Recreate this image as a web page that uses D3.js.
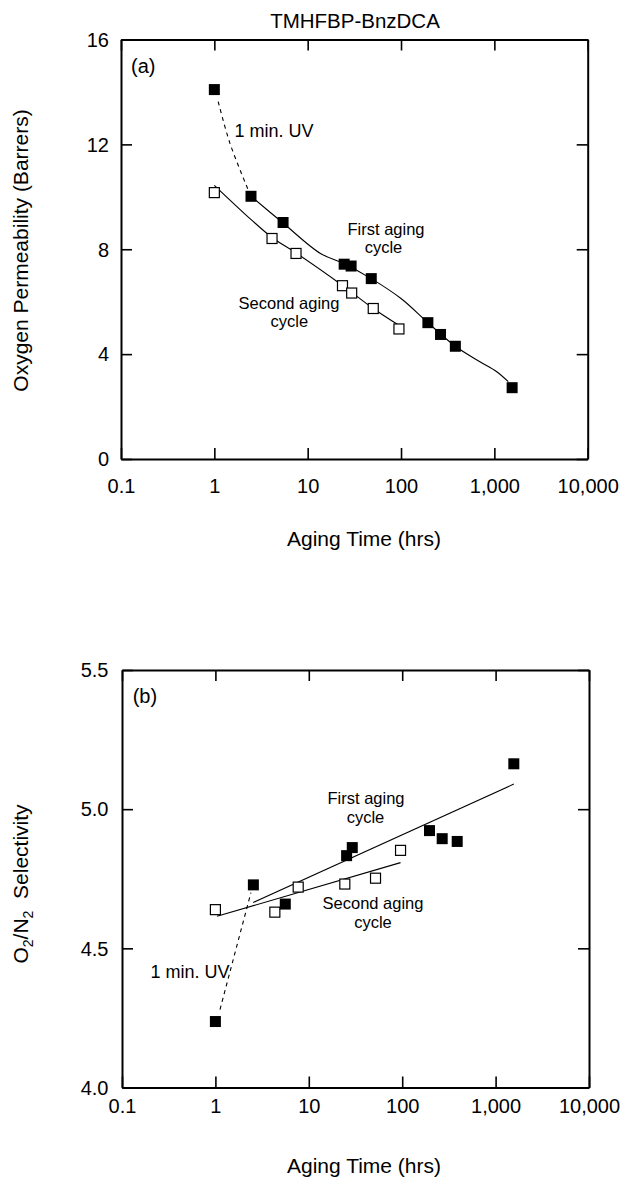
<!DOCTYPE html>
<html>
<head>
<meta charset="utf-8">
<script src="https://cdn.jsdelivr.net/npm/d3@7"></script>
<style>
  html, body { margin: 0; padding: 0; background: #fff; }
  svg { display: block; font-family: "Liberation Sans", Arial, Helvetica, sans-serif; }
</style>
</head>
<body>
<svg id="chart" width="628" height="1178"></svg>
<script>
// ---------------- DATA ----------------
const xTicks = [0.1, 1, 10, 100, 1000, 10000];
const xTickLabels = ["0.1", "1", "10", "100", "1,000", "10,000"];

const yTicksA = [0, 4, 8, 12, 16];
const yTickLabelsA = ["0", "4", "8", "12", "16"];
const yTicksB = [4.0, 4.5, 5.0, 5.5];
const yTickLabelsB = ["4.0", "4.5", "5.0", "5.5"];

// Panel (a): oxygen permeability (Barrers)
const timeFirstA = [1, 2.47, 5.45, 24.6, 29.2, 48, 194, 265, 382, 1550];
const permFirstA = [14.09, 10.02, 9.02, 7.43, 7.36, 6.88, 5.20, 4.75, 4.30, 2.72];
const timeSecondA = [1, 4.15, 7.5, 23.6, 29.6, 50.4, 95];
const permSecondA = [10.16, 8.41, 7.84, 6.61, 6.33, 5.74, 4.96];

// fitted guide curves, panel (a)
const fitFirstXA = [2.47, 5.45, 13.7, 24.6, 48, 100, 194, 382, 700, 1060, 1410];
const fitFirstYA = [10.02, 9.0, 7.84, 7.45, 6.88, 6.12, 5.2, 4.3, 3.71, 3.33, 2.95];
const fitSecondXA = [1, 2.48, 4.15, 7.5, 23.6, 50.4, 95];
const fitSecondYA = [10.44, 9.13, 8.45, 7.86, 6.62, 5.74, 5.1];
const uvXA = [1.10, 1.47, 2.31];
const uvYA = [13.63, 12.04, 10.26];

// Panel (b): O2/N2 selectivity
const timeFirstB = [1, 2.55, 5.6, 25.4, 29.2, 196, 268, 388, 1567];
const selFirstB = [4.237, 4.728, 4.659, 4.833, 4.862, 4.923, 4.894, 4.884, 5.163];
const timeSecondB = [1, 4.33, 7.7, 24.3, 51.8, 96];
const selSecondB = [4.639, 4.630, 4.720, 4.731, 4.752, 4.852];

// fitted guide lines, panel (b)
const fitFirstXB = [2.54, 1567];
const fitFirstYB = [4.665, 5.090];
const fitSecondXB = [1.04, 96];
const fitSecondYB = [4.615, 4.808];
const uvXB = [1.12, 2.4];
const uvYB = [4.28, 4.70];

// ---------------- LAYOUT ----------------
const svg = d3.select("#chart");

function drawPanel(cfg) {
  const x = d3.scaleLog().domain([0.1, 10000]).range([cfg.left, cfg.right]);
  const y = d3.scaleLinear().domain(cfg.yDomain).range([cfg.bottom, cfg.top]);
  const g = svg.append("g");

  const styleAxis = sel => {
    sel.attr("font-size", null).attr("font-family", null);
    sel.select(".domain").attr("stroke", "#000").attr("stroke-width", 2);
    sel.selectAll(".tick line").attr("stroke", "#000").attr("stroke-width", 1.6);
    sel.selectAll(".tick text").attr("fill", "#000").style("font-size", "20px");
  };

  g.append("g").attr("transform", `translate(0,${cfg.bottom})`)
    .call(d3.axisBottom(x).tickValues(xTicks).tickFormat((d, i) => xTickLabels[i])
      .tickSizeInner(-11).tickSizeOuter(0).tickPadding(cfg.xPad))
    .call(styleAxis);
  g.append("g").attr("transform", `translate(0,${cfg.top})`)
    .call(d3.axisTop(x).tickValues(xTicks).tickFormat(() => "")
      .tickSizeInner(-11).tickSizeOuter(0))
    .call(styleAxis);
  g.append("g").attr("transform", `translate(${cfg.left},0)`)
    .call(d3.axisLeft(y).tickValues(cfg.yTicks).tickFormat((d, i) => cfg.yLabels[i])
      .tickSizeInner(-11).tickSizeOuter(0).tickPadding(cfg.yPad))
    .call(styleAxis)
    .selectAll(".tick text").attr("dy", "0.34em");
  g.append("g").attr("transform", `translate(${cfg.right},0)`)
    .call(d3.axisRight(y).tickValues(cfg.yTicks).tickFormat(() => "")
      .tickSizeInner(-11).tickSizeOuter(0))
    .call(styleAxis);

  const line = d3.line().x(d => x(d[0])).y(d => y(d[1]));
  const curve = cfg.smooth ? d3.curveCatmullRom.alpha(0.5) : d3.curveLinear;

  g.append("path").datum(d3.zip(cfg.fit1X, cfg.fit1Y))
    .attr("d", line.curve(curve)).attr("fill", "none").attr("stroke", "#000").attr("stroke-width", 1.1);
  g.append("path").datum(d3.zip(cfg.fit2X, cfg.fit2Y))
    .attr("d", line.curve(curve)).attr("fill", "none").attr("stroke", "#000").attr("stroke-width", 1.1);
  g.append("path").datum(d3.zip(cfg.uvX, cfg.uvY))
    .attr("d", line.curve(curve)).attr("fill", "none").attr("stroke", "#000")
    .attr("stroke-width", 1.1).attr("stroke-dasharray", "4,4");

  const s = 10;
  g.append("g").selectAll("rect").data(d3.zip(cfg.t2, cfg.v2)).join("rect")
    .attr("x", d => x(d[0]) - s / 2).attr("y", d => y(d[1]) - s / 2)
    .attr("width", s).attr("height", s)
    .attr("fill", "#fff").attr("stroke", "#000").attr("stroke-width", 1.2);
  g.append("g").selectAll("rect").data(d3.zip(cfg.t1, cfg.v1)).join("rect")
    .attr("x", d => x(d[0]) - s / 2 - 0.5).attr("y", d => y(d[1]) - s / 2 - 0.5)
    .attr("width", s + 1).attr("height", s + 1)
    .attr("fill", "#000");

  // annotations (multi-line ones as a single text with tspans)
  cfg.notes.forEach(n => {
    const t = g.append("text").attr("x", n.x).attr("y", n.y)
      .attr("text-anchor", n.anchor || "middle")
      .style("font-size", (n.size || 18) + "px").attr("fill", "#000");
    if (Array.isArray(n.text)) {
      n.text.forEach((s, i) => {
        t.append("tspan").attr("x", n.x + (n.dx ? n.dx[i] : 0))
          .attr("dy", i === 0 ? 0 : n.lh).text(s);
      });
    } else {
      t.text(n.text);
    }
  });

  // x axis title
  g.append("text").attr("x", 364).attr("y", cfg.xTitleY).attr("text-anchor", "middle")
    .style("font-size", "21px").text("Aging Time (hrs)");

  return g;
}

drawPanel({
  left: 121, right: 587.7, top: 39.5, bottom: 459, yDomain: [0, 16],
  yTicks: yTicksA, yLabels: yTickLabelsA, xPad: 20, yPad: 12, smooth: true,
  t1: timeFirstA, v1: permFirstA, t2: timeSecondA, v2: permSecondA,
  fit1X: fitFirstXA, fit1Y: fitFirstYA, fit2X: fitSecondXA, fit2Y: fitSecondYA,
  uvX: uvXA, uvY: uvYA, xTitleY: 546,
  notes: [
    { text: "(a)", x: 131, y: 73, anchor: "start", size: 20 },
    { text: "1 min. UV", x: 234.5, y: 136.5, anchor: "start" },
    { text: ["First aging", "cycle"], x: 386, y: 234.5, lh: 18.7, dx: [0, -2.5], size: 16.5 },
    { text: ["Second aging", "cycle"], x: 289, y: 308.5, lh: 18.7, dx: [0, 0.3], size: 16.5 }
  ]
});

drawPanel({
  left: 122, right: 589, top: 670, bottom: 1087.5, yDomain: [4.0, 5.5],
  yTicks: yTicksB, yLabels: yTickLabelsB, xPad: 11.6, yPad: 13.5, smooth: false,
  t1: timeFirstB, v1: selFirstB, t2: timeSecondB, v2: selSecondB,
  fit1X: fitFirstXB, fit1Y: fitFirstYB, fit2X: fitSecondXB, fit2Y: fitSecondYB,
  uvX: uvXB, uvY: uvYB, xTitleY: 1173,
  notes: [
    { text: "(b)", x: 132.7, y: 703, anchor: "start", size: 20 },
    { text: "1 min. UV", x: 229.5, y: 978, anchor: "end" },
    { text: ["First aging", "cycle"], x: 366, y: 804, lh: 18.7, dx: [0, -0.5], size: 16.5 },
    { text: ["Second aging", "cycle"], x: 373, y: 909, lh: 18.7, dx: [0, 0], size: 16.5 }
  ]
});

// chart title
svg.append("text").attr("x", 355).attr("y", 28.3).attr("text-anchor", "middle")
  .style("font-size", "20.5px").text("TMHFBP-BnzDCA");

// y axis titles (rotated)
svg.append("text").attr("transform", "translate(28,250.5) rotate(-90)")
  .attr("text-anchor", "middle").style("font-size", "21px")
  .text("Oxygen Permeability (Barrers)");

const yb = svg.append("text").attr("transform", "translate(28,884) rotate(-90)")
  .attr("text-anchor", "middle").style("font-size", "21px");
yb.append("tspan").text("O");
yb.append("tspan").attr("dy", 5).style("font-size", "14px").text("2");
yb.append("tspan").attr("dy", -5).text("/N");
yb.append("tspan").attr("dy", 5).style("font-size", "14px").text("2");
yb.append("tspan").attr("dy", -5).text("\u00A0 Selectivity");
</script>
</body>
</html>
